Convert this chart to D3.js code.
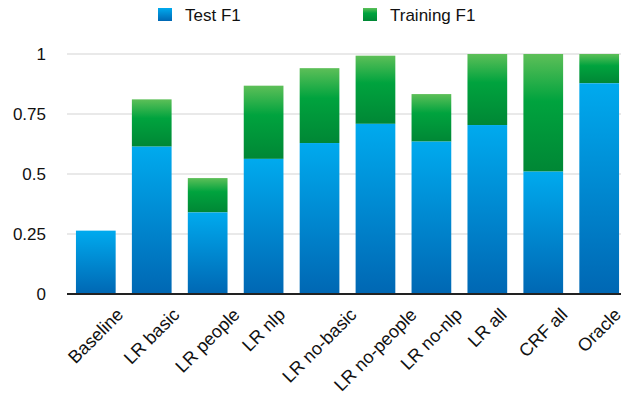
<!DOCTYPE html>
<html>
<head>
<meta charset="utf-8">
<script src="https://cdn.jsdelivr.net/npm/d3@7"></script>
<style>
body { margin: 0; background: #fff; }
text { font-family: "Liberation Sans", Arial, sans-serif; fill: #111; }
</style>
</head>
<body>
<div class="container"></div>
<script>
var categories = ["Baseline", "LR basic", "LR people", "LR nlp", "LR no-basic",
    "LR no-people", "LR no-nlp", "LR all", "CRF all", "Oracle"];
var testF1 = [0.264, 0.614, 0.340, 0.563, 0.629, 0.709, 0.635, 0.704, 0.510, 0.878];
var trainingF1 = [0.264, 0.811, 0.483, 0.868, 0.941, 0.993, 0.833, 1.0, 1.0, 1.0];
var yTicks = [0, 0.25, 0.5, 0.75, 1];

var width = 621, height = 396;
var svg = d3.select(".container").append("svg")
    .attr("width", width)
    .attr("height", height);

var defs = svg.append("defs");
function grad(id, stops) {
    var g = defs.append("linearGradient")
        .attr("id", id)
        .attr("x1", 0).attr("y1", 0).attr("x2", 0).attr("y2", 1);
    stops.forEach(function(s) {
        g.append("stop").attr("offset", s[0]).attr("stop-color", s[1]);
    });
}
grad("blueGrad", [[0, "#00aaee"], [1, "#0067b3"]]);
grad("greenGrad", [[0, "#5dbf58"], [0.4, "#00a33e"], [1, "#008735"]]);

var x = d3.scaleBand()
    .domain(categories)
    .range([67, 628])
    .paddingInner(0.29)
    .paddingOuter(0.16);

var y = d3.scaleLinear()
    .domain([0, 1])
    .range([294, 54]);

// gridlines
svg.append("g")
    .selectAll("line")
    .data(yTicks.slice(1))
    .enter()
    .append("line")
    .attr("x1", 67).attr("x2", width)
    .attr("y1", function(d) { return y(d); })
    .attr("y2", function(d) { return y(d); })
    .attr("stroke", "#e2e2e2")
    .attr("stroke-width", 1.5);

var rows = categories.map(function(c, i) {
    return { cat: c, test: testF1[i], train: trainingF1[i] };
});

// training F1 (top part)
svg.selectAll(".train")
    .data(rows.filter(function(d) { return d.train > d.test; }))
    .enter()
    .append("rect")
    .attr("class", "train")
    .attr("x", function(d) { return x(d.cat); })
    .attr("width", x.bandwidth())
    .attr("y", function(d) { return y(d.train); })
    .attr("height", function(d) { return y(d.test) - y(d.train); })
    .attr("fill", "url(#greenGrad)");

// test F1
svg.selectAll(".test")
    .data(rows)
    .enter()
    .append("rect")
    .attr("class", "test")
    .attr("x", function(d) { return x(d.cat); })
    .attr("width", x.bandwidth())
    .attr("y", function(d) { return y(d.test); })
    .attr("height", function(d) { return y(0) - y(d.test); })
    .attr("fill", "url(#blueGrad)");

// y axis
var yAxis = svg.append("g")
    .attr("transform", "translate(67,0)")
    .call(d3.axisLeft(y).tickValues(yTicks).tickFormat(d3.format("")).tickSize(0).tickPadding(21));
yAxis.select(".domain").remove();
yAxis.selectAll("text")
    .attr("font-size", 17)
    .attr("font-family", "Liberation Sans, Arial, sans-serif")
    .attr("fill", "#111");

// x axis: rotated labels, box centred under each bar, top aligned
var labelSize = 18;
var xAxis = svg.append("g")
    .call(d3.axisBottom(x).tickSize(0).tickPadding(0));
xAxis.select(".domain").remove();
xAxis.selectAll(".tick").attr("transform", null);
xAxis.selectAll("text")
    .attr("font-size", labelSize)
    .attr("font-family", "Liberation Sans, Arial, sans-serif")
    .attr("fill", "#111")
    .attr("y", 0)
    .attr("x", 0)
    .attr("dy", "0.33em")
    .style("text-anchor", "middle")
    .attr("transform", function(d) {
        var len = this.getComputedTextLength();
        var box = (len + labelSize * 0.72) * Math.SQRT1_2;
        var cx = x(d) + x.bandwidth() / 2;
        return "translate(" + cx + "," + (307 + box / 2) + ") rotate(-45)";
    });

svg.append("line")
    .attr("x1", 67).attr("x2", width)
    .attr("y1", y(0)).attr("y2", y(0))
    .attr("stroke", "#222")
    .attr("stroke-width", 2);

// legend
var legend = [["Test F1", "url(#blueGrad)", 158], ["Training F1", "url(#greenGrad)", 363]];
var lg = svg.selectAll(".legend")
    .data(legend)
    .enter()
    .append("g")
    .attr("class", "legend")
    .attr("transform", function(d) { return "translate(" + d[2] + ",0)"; });
lg.append("rect")
    .attr("x", 0).attr("y", 8)
    .attr("width", 14).attr("height", 13)
    .attr("fill", function(d) { return d[1]; });
lg.append("text")
    .attr("x", 27).attr("y", 21)
    .attr("font-size", 17)
    .text(function(d) { return d[0]; });
</script>
</body>
</html>
